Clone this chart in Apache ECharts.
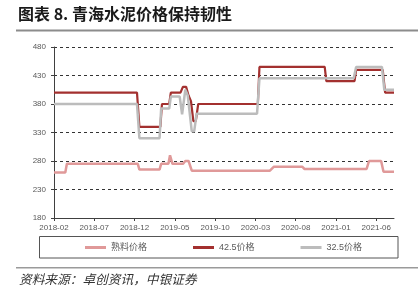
<!DOCTYPE html>
<html>
<head>
<meta charset="utf-8">
<script src="https://cdn.jsdelivr.net/npm/echarts@6/dist/echarts.min.js"></script>
<style>
  html, body { margin: 0; padding: 0; background: #fff; }
  #chart { width: 418px; height: 304px; }
</style>
</head>
<body>
<div id="chart"></div>
<script>
// 数据（按图读取的折线拐点）
const clinkerDates = ["2018-02-01", "2018-03-13", "2018-03-19", "2018-12-13", "2018-12-19", "2019-03-04", "2019-03-10",
  "2019-04-07", "2019-04-13", "2019-04-22", "2019-06-01", "2019-06-10", "2019-06-22", "2019-07-04", "2020-04-25",
  "2020-05-10", "2020-08-25", "2020-09-04", "2021-04-25", "2021-05-04", "2021-06-19", "2021-06-28", "2021-08-07"];
const clinkerValues = [260, 260, 275, 275, 265, 265, 275, 275, 290, 275, 275, 280, 280, 263, 263,
  270, 270, 266, 266, 280, 280, 261, 261];

const p425Dates = ["2018-02-01", "2018-12-10", "2018-12-19", "2019-03-07", "2019-03-13", "2019-04-10", "2019-04-16",
  "2019-05-22", "2019-06-01", "2019-06-13", "2019-06-22", "2019-07-01", "2019-07-10", "2019-07-19", "2019-07-28",
  "2020-03-10", "2020-03-16", "2020-11-19", "2020-11-25", "2021-03-10", "2021-03-16", "2021-06-25", "2021-07-04", "2021-08-07"];
const p425Values = [400, 400, 340, 340, 380, 380, 400, 400, 410, 410, 395, 385, 350, 350, 380,
  380, 445, 445, 420, 420, 440, 440, 400, 400];

const p325Dates = ["2018-02-01", "2018-12-10", "2018-12-19", "2019-03-04", "2019-03-10", "2019-04-10", "2019-04-16",
  "2019-05-19", "2019-05-28", "2019-06-10", "2019-06-19", "2019-07-04", "2019-07-13", "2019-07-22", "2020-03-07",
  "2020-03-16", "2021-03-07", "2021-03-16", "2021-06-22", "2021-07-01", "2021-08-07"];
const p325Values = [380, 380, 320, 320, 372, 372, 393, 393, 362, 405, 395, 332, 332, 363, 363,
  425, 425, 445, 445, 405, 405];

const xTickLabels = ["2018-02", "2018-07", "2018-12", "2019-05", "2019-10", "2020-03", "2020-08", "2021-01", "2021-06"];
const legendNames = ["熟料价格", "42.5价格", "32.5价格"];

// 以 2018-02 为起点的月份偏移
const toMonth = (s) => {
  const [y, m, d] = s.split("-").map(Number);
  return (y - 2018) * 12 + (m - 2) + (d - 1) / 30;
};
const pairs = (dates, vals) => dates.map((d, i) => [toMonth(d), vals[i]]);
const tickMonths = xTickLabels.map(l => toMonth(l + "-01"));

const chart = echarts.init(document.getElementById("chart"), null, { renderer: "canvas" });
const font = "Liberation Sans, Noto Sans CJK SC, sans-serif";

chart.setOption({
  animation: false,
  backgroundColor: "#fff",
  textStyle: { fontFamily: font },
  grid: { left: 54, right: 24, top: 47, bottom: 86 },
  xAxis: {
    type: "value",
    min: 0,
    max: 42.2,
    axisLine: { lineStyle: { color: "#404040", width: 1 } },
    axisTick: { show: true, length: 3, lineStyle: { color: "#404040" }, customValues: tickMonths },
    axisLabel: {
      customValues: tickMonths,
      color: "#595959", fontSize: 8, margin: 6,
      formatter: (v) => {
        const i = tickMonths.findIndex(t => Math.abs(t - v) < 1e-6);
        return i >= 0 ? xTickLabels[i] : "";
      },
    },
    splitLine: { show: false },
  },
  yAxis: {
    type: "value",
    min: 180,
    max: 480,
    interval: 50,
    axisLine: { show: true, lineStyle: { color: "#404040", width: 1 } },
    axisTick: { show: true, length: 3, lineStyle: { color: "#404040" } },
    axisLabel: { color: "#595959", fontSize: 8, margin: 8 },
    splitLine: { lineStyle: { color: "#333", type: [3, 3], width: 1 } },
  },
  legend: {
    data: legendNames,
    left: 85,
    top: 243,
    padding: 0,
    itemGap: 46,
    itemWidth: 21,
    itemHeight: 3,
    icon: "rect",
    textStyle: { color: "#595959", fontSize: 9, fontFamily: font },
  },
  series: [
    {
      name: legendNames[0], type: "line", symbol: "none",
      lineStyle: { color: "#e09999", width: 2.5 }, itemStyle: { color: "#e09999" },
      data: pairs(clinkerDates, clinkerValues),
    },
    {
      name: legendNames[1], type: "line", symbol: "none",
      lineStyle: { color: "#a3302f", width: 2.2 }, itemStyle: { color: "#a3302f" },
      data: pairs(p425Dates, p425Values),
    },
    {
      name: legendNames[2], type: "line", symbol: "none",
      lineStyle: { color: "#bcbcbc", width: 2.5 }, itemStyle: { color: "#bcbcbc" },
      data: pairs(p325Dates, p325Values),
    },
  ],
  graphic: [
    {
      type: "text", left: 18, top: 6,
      style: { text: "图表 8. 青海水泥价格保持韧性", font: "bold 16px 'Noto Sans CJK SC', sans-serif", fill: "#1a1a1a" },
    },
    { type: "rect", shape: { x: 16, y: 29.5, width: 402, height: 2 }, style: { fill: "#8c8c8c" } },
    {
      type: "rect", shape: { x: 39.5, y: 236.5, width: 358.5, height: 21.5 },
      style: { fill: "none", stroke: "#555", lineWidth: 1 },
    },
    { type: "rect", shape: { x: 16, y: 267, width: 402, height: 1.5 }, style: { fill: "#9a9a9a" } },
    {
      type: "text", left: 19, top: 273,
      style: { text: "资料来源：卓创资讯，中银证券", font: "italic 12.7px 'Noto Sans CJK SC', sans-serif", fill: "#333" },
    },
  ],
});
</script>
</body>
</html>
